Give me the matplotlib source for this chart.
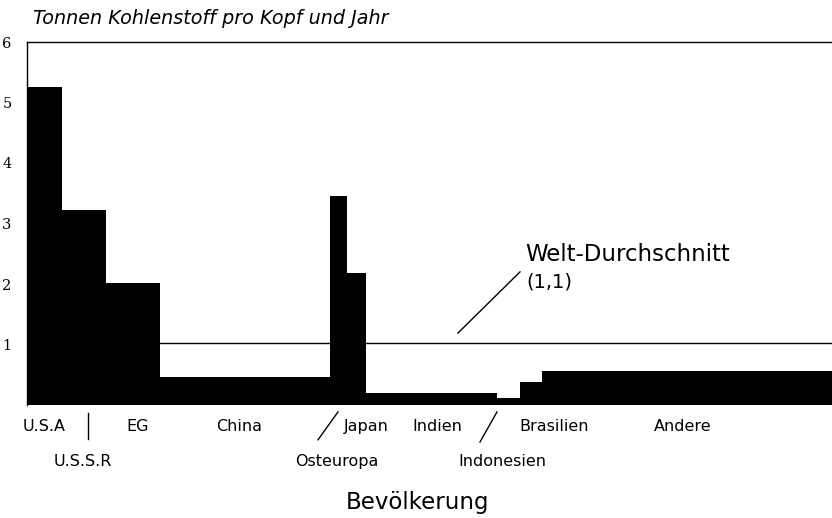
import matplotlib
matplotlib.use("Agg")
import matplotlib.pyplot as plt
import numpy as np

# Data: population (millions) as bar width, tonnes of carbon per head as bar height
regions = ["U.S.A", "U.S.S.R", "EG", "China", "Osteuropa", "Japan",
           "Indien", "Indonesien", "Brasilien", "Andere"]
population = [245, 308, 378, 1190, 119, 133, 917, 161, 154, 2030]
carbon_per_head = [5.26, 3.22, 2.02, 0.46, 3.45, 2.18, 0.20, 0.11, 0.38, 0.56]
world_average = 1.03
y_ticks = [1, 2, 3, 4, 5, 6]

plt.rcParams["font.family"] = ["DejaVu Sans"]

fig = plt.figure(figsize=(8.32, 5.18), dpi=100)
ax = fig.add_axes([27 / 832, 113 / 518, 805 / 832, 363 / 518])

left_edges = np.concatenate([[0], np.cumsum(population)[:-1]])
centers = left_edges + np.array(population) / 2

# world average line sits behind the bars
ax.axhline(world_average, color="black", linewidth=1, zorder=1)
ax.bar(left_edges, carbon_per_head, width=population, align="edge",
       color="black", linewidth=0, zorder=2)

ax.set_xlim(0, sum(population))
ax.set_ylim(0, 6)
ax.set_xticks([])
ax.set_yticks(y_ticks)
ax.set_yticklabels([str(t) for t in y_ticks], family="DejaVu Serif", fontsize=10.5)
ax.tick_params(axis="y", length=0, pad=11)

for side in ["right", "bottom"]:
    ax.spines[side].set_visible(False)
for side in ["left", "top"]:
    ax.spines[side].set_linewidth(1)

# category labels under the bars (two rows, some nudged like the original)
trans = ax.get_xaxis_transform()
row1 = {"U.S.A": 0, "EG": 30, "China": -40, "Japan": 70, "Indien": 40,
        "Brasilien": 160, "Andere": -30}
row2 = {"U.S.S.R": -10, "Osteuropa": -10, "Indonesien": -40}
for name, nudge in row1.items():
    i = regions.index(name)
    ax.text(centers[i] + nudge, -0.058, name, transform=trans, ha="center",
            va="center", fontsize=11.5)
for name, nudge in row2.items():
    i = regions.index(name)
    ax.text(centers[i] + nudge, -0.157, name, transform=trans, ha="center",
            va="center", fontsize=11.5)

# separator marks between labels
ussr = regions.index("U.S.S.R")
ax.plot([centers[ussr] + 25] * 2, [-0.022, -0.095], transform=trans,
        color="black", linewidth=1, clip_on=False)
oste = regions.index("Osteuropa")
ax.plot([left_edges[oste] - 84, left_edges[oste] + 56], [-0.096, -0.019],
        transform=trans, color="black", linewidth=1, clip_on=False)
indo = regions.index("Indonesien")
ax.plot([left_edges[indo] - 119, left_edges[indo]], [-0.102, -0.019],
        transform=trans, color="black", linewidth=1, clip_on=False)

# world average annotation
ax.plot([3017, 3451], [1.19, 2.2], color="black", linewidth=1)
ax.text(3486, 2.48, "Welt-Durchschnitt", ha="left", va="center", fontsize=16.5)
ax.text(3493, 2.03, "(1,1)", ha="left", va="center", fontsize=14)

fig.text(33 / 832, 1 - 18 / 518, "Tonnen Kohlenstoff pro Kopf und Jahr",
         ha="left", va="center", fontsize=13.8, style="italic")
fig.text(418 / 832, 1 - 502 / 518, "Bevölkerung", ha="center", va="center",
         fontsize=16.5)

fig.savefig("out.png", dpi=100)
